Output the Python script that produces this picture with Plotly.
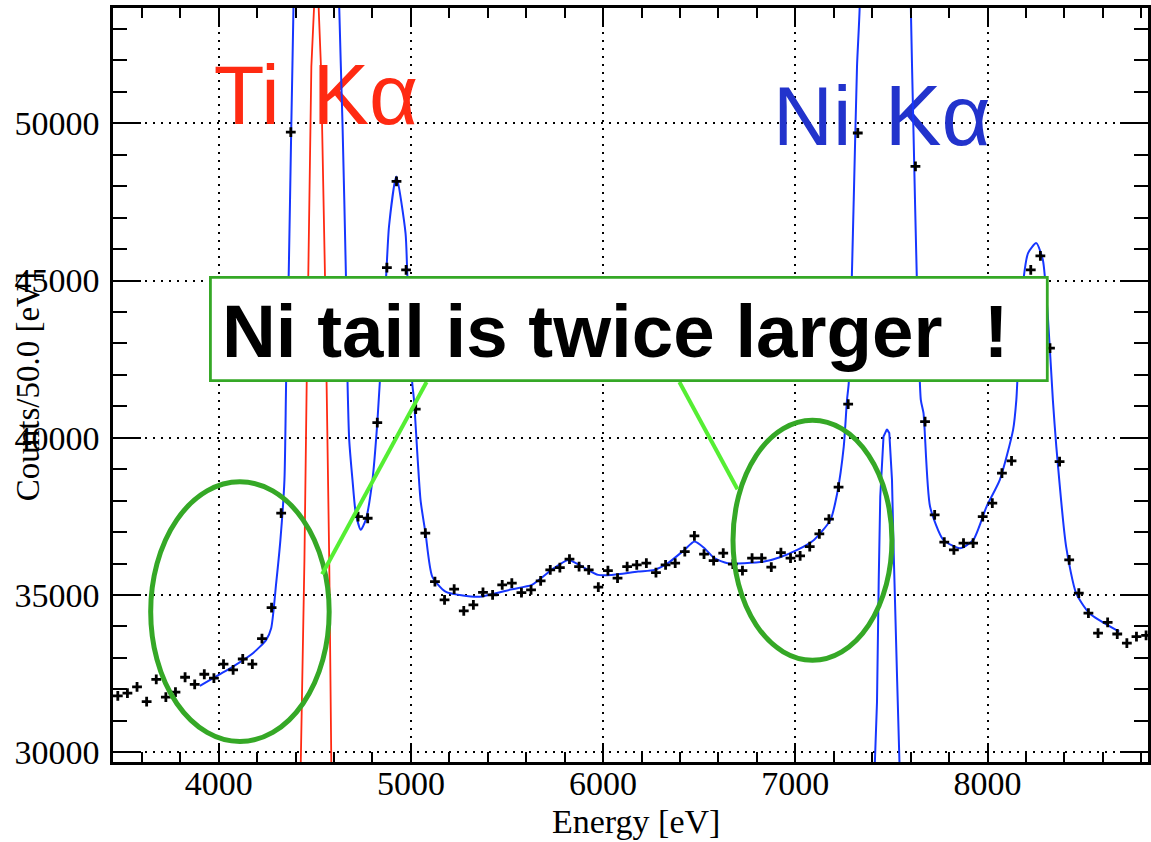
import plotly.graph_objects as go

# ---------------- data ----------------
# histogram: bin centres (50 eV bins) and counts
energy = [3475, 3525, 3575, 3625, 3675, 3725, 3775, 3825, 3875, 3925, 3975,
          4025, 4075, 4125, 4175, 4225, 4275, 4325, 4375, 4425, 4475, 4525, 4575, 4625, 4675, 4725, 4775, 4825, 4875, 4925, 4975,
          5025, 5075, 5125, 5175, 5225, 5275, 5325, 5375, 5425, 5475, 5525, 5575, 5625, 5675, 5725, 5775, 5825, 5875, 5925, 5975,
          6025, 6075, 6125, 6175, 6225, 6275, 6325, 6375, 6425, 6475, 6525, 6575, 6625, 6675, 6725, 6775, 6825, 6875, 6925, 6975,
          7025, 7075, 7125, 7175, 7225, 7275, 7325, 7375, 7425, 7475, 7525, 7575, 7625, 7675, 7725, 7775, 7825, 7875, 7925, 7975,
          8025, 8075, 8125, 8175, 8225, 8275, 8325, 8375, 8425, 8475, 8525, 8575, 8625, 8675, 8725, 8775, 8825]
counts = [31790, 31880, 32080, 31610, 32320, 31750, 31910, 32385, 32160, 32480, 32355,
          32800, 32620, 32965, 32800, 33610, 34600, 37605, 49720, 62000, 76000, 79000, 67000, 56000, 43500, 37495, 37440, 40480, 45410, 48150, 45340,
          40910, 36965, 35426, 34844, 35184, 34494, 34685, 35082, 35003, 35321, 35375, 35076, 35162, 35448, 35798, 35872, 36138, 35903, 35798, 35248,
          35776, 35534, 35903, 35958, 36011, 35712, 35958, 36011, 36381, 36880, 36300, 36094, 36329, 35985, 35776, 36170, 36170, 35884, 36349, 36170,
          36243, 36540, 36943, 37411, 38429, 41069, 49690, 62000, 80000, 90000, 75000, 58000, 48630, 40515, 37548, 36679, 36434, 36648, 36648, 37494,
          37920, 38874, 39265, 42800, 45340, 45785, 42850, 39243, 36116, 35057, 34421, 33785, 34130, 33760, 33467, 33677, 33715]

# total fit (blue)
fit_e = [3902, 4000, 4074, 4178, 4247, 4273, 4299, 4321, 4342, 4351, 4364, 4377, 4389, 4430, 4505, 4580,
         4627, 4644, 4662, 4670, 4679, 4696, 4713, 4739, 4765, 4800, 4825, 4850, 4872, 4886, 4924, 4972, 4981,
         5007, 5016, 5050, 5076, 5111, 5180, 5352, 5525, 5629, 5732, 5819, 5905, 5974, 6043, 6181, 6268, 6337,
         6423, 6475, 6527, 6579, 6648, 6734, 6838, 6920, 7010, 7097, 7183, 7218, 7252, 7269, 7278, 7304, 7321,
         7335, 7400, 7478, 7550, 7601, 7615, 7632, 7653, 7667, 7701, 7770, 7857, 7926, 7995, 8064, 8133, 8150,
         8176, 8211, 8254, 8288, 8314, 8340, 8358, 8409, 8461, 8530, 8685]
fit_c = [32109, 32459, 32723, 33149, 33572, 33944, 35375, 36752, 38661, 41842, 45127, 49688, 53700, 70000, 90000, 70000,
         53700, 50000, 45127, 41842, 39933, 38661, 37602, 37071, 37389, 38661, 40464, 43000, 45235, 46718, 48308, 46507, 45235,
         41737, 41206, 38025, 36965, 35585, 35108, 34943, 35184, 35321, 35798, 36116, 35852, 35640, 35640, 35744, 35798, 36011,
         36434, 36699, 36488, 36170, 36011, 36011, 36063, 36200, 36434, 36752, 37389, 38237, 39720, 41206, 41737, 47567, 51807,
         53700, 75000, 90000, 75000, 53700, 49688, 45127, 41206, 40782, 37812, 36752, 36488, 36752, 37812, 38661, 40251, 41206,
         44387, 45871, 46189, 45653, 43855, 41206, 39720, 36540, 35057, 34421, 33836]

# Ti K-alpha component (red)
ti_e = [4425, 4446, 4458, 4466, 4482, 4496, 4507, 4520, 4532, 4553, 4561, 4575, 4587]
ti_c = [29000, 36116, 41842, 45127, 51797, 53673, 55500, 53673, 51797, 45127, 41842, 36116, 29000]

# Ni component (narrow blue)
ni_e = [7410, 7425, 7434, 7442, 7459, 7477, 7489, 7503, 7511, 7520, 7530, 7545]
ni_c = [29000, 31600, 35480, 38130, 40038, 40273, 40146, 38661, 36540, 34844, 32250, 29000]

x_ticks = [4000, 5000, 6000, 7000, 8000]
x_tick_text = ["4000", "5000", "6000", "7000", "8000"]
y_ticks = [30000, 35000, 40000, 45000, 50000]
y_tick_text = ["30000", "35000", "40000", "45000", "50000"]

# ---------------- layout geometry ----------------
W, H = 1151, 842
ML, MR, MT, MB = 113, 0, 8, 80
X_RANGE = [3450, 8835]
Y_RANGE = [29690, 53665]


def px2x(px):
    return X_RANGE[0] + (px - ML) / (W - ML - MR) * (X_RANGE[1] - X_RANGE[0])


def py2y(py):
    return Y_RANGE[0] + (H - MB - py) / (H - MB - MT) * (Y_RANGE[1] - Y_RANGE[0])


BLUE = "#1636ff"
RED = "#ff2a12"
DGREEN = "#35a826"
LGREEN = "#55ee33"
SERIF = "Liberation Serif, Times New Roman, serif"
SANS = "Liberation Sans, Arial, Helvetica, sans-serif"

fig = go.Figure()

# big labels drawn underneath the curves (each word placed separately)
labels = [("Ti", 214, 103, RED, 83), ("Kα", 313, 103, RED, 85),
          ("Ni", 775, 124, "#2233cc", 83), ("Kα", 887, 124, "#2233cc", 85)]
for txt, lx, ly, col, fs in labels:
    fig.add_trace(go.Scatter(x=[px2x(lx)], y=[py2y(ly)], mode="text", text=[txt],
                             textposition="middle right", textfont=dict(family=SANS, size=fs, color=col),
                             hoverinfo="skip", showlegend=False))

fig.add_trace(go.Scatter(x=ti_e, y=ti_c, mode="lines", line=dict(color=RED, width=1.8),
                         hoverinfo="skip", showlegend=False))
fig.add_trace(go.Scatter(x=ni_e, y=ni_c, mode="lines", line=dict(color=BLUE, width=2),
                         hoverinfo="skip", showlegend=False))
fig.add_trace(go.Scatter(x=fit_e, y=fit_c, mode="lines", line=dict(color=BLUE, width=2, shape="spline", smoothing=0.6),
                         hoverinfo="skip", showlegend=False))
fig.add_trace(go.Scatter(x=energy, y=counts, mode="markers",
                         marker=dict(symbol="cross-thin", size=7, color="black",
                                     line=dict(color="black", width=2.8)),
                         showlegend=False))

axis_common = dict(showline=True, linecolor="black", linewidth=2.5, mirror="allticks",
                   ticks="inside", tickcolor="black", tickwidth=2,
                   showgrid=True, gridcolor="black", gridwidth=1.6, griddash="2px,6px",
                   zeroline=False, tickfont=dict(family=SERIF, size=34, color="black"))

fig.update_xaxes(range=X_RANGE, tickvals=x_ticks, ticktext=x_tick_text, ticklen=19,
                 minor=dict(ticks="inside", ticklen=10, dtick=200, tickcolor="black", tickwidth=2, showgrid=False),
                 ticklabelstandoff=-11, **axis_common)
fig.update_yaxes(range=Y_RANGE, tickvals=y_ticks, ticktext=y_tick_text, ticklen=28,
                 minor=dict(ticks="inside", ticklen=14, dtick=1000, tickcolor="black", tickwidth=2, showgrid=False),
                 ticklabelstandoff=4, **axis_common)

shapes = []
# ellipses
shapes.append(dict(type="circle", xref="x", yref="y", layer="above",
                   x0=px2x(150.8), x1=px2x(329.8), y0=py2y(741.5), y1=py2y(481.8),
                   line=dict(color=DGREEN, width=5)))
shapes.append(dict(type="circle", xref="x", yref="y", layer="above",
                   x0=px2x(734.8), x1=px2x(894.2), y0=py2y(660.2), y1=py2y(420.2),
                   line=dict(color=DGREEN, width=5)))
# pointer lines
shapes.append(dict(type="line", xref="x", yref="y", layer="above",
                   x0=px2x(322.7), y0=py2y(574.3), x1=px2x(427.5), y1=py2y(382),
                   line=dict(color=LGREEN, width=4)))
shapes.append(dict(type="line", xref="x", yref="y", layer="above",
                   x0=px2x(739.3), y0=py2y(489.3), x1=px2x(681), y1=py2y(382),
                   line=dict(color=LGREEN, width=4)))
# text box
shapes.append(dict(type="rect", xref="x", yref="y", layer="above",
                   x0=px2x(210.7), x1=px2x(1050), y0=py2y(380.7), y1=py2y(277.3),
                   fillcolor="white", line=dict(color=DGREEN, width=2.8)))

annotations = [
    dict(x=px2x(220), y=py2y(331), xref="x", yref="y", xanchor="left", yanchor="middle",
         text="<b>Ni tail is twice larger&nbsp;&nbsp;!</b>", showarrow=False,
         font=dict(family=SANS, size=74.5, color="black")),
    dict(x=(637.5 - ML) / (W - ML - MR), y=(H - MB - 822) / (H - MB - MT), xref="paper", yref="paper",
         xanchor="center", yanchor="middle",
         text="Energy [eV]", showarrow=False, font=dict(family=SERIF, size=34, color="black")),
    dict(x=(28 - ML) / (W - ML - MR), y=(H - MB - 387) / (H - MB - MT), xref="paper", yref="paper",
         xanchor="center", yanchor="middle", textangle=-90,
         text="Counts/50.0 [eV]", showarrow=False, font=dict(family=SERIF, size=33, color="black")),
]

fig.update_layout(width=W, height=H, autosize=False,
                  margin=dict(l=ML, r=MR, t=MT, b=MB, pad=0),
                  plot_bgcolor="white", paper_bgcolor="white",
                  shapes=shapes, annotations=annotations, showlegend=False)

fig.write_html("out.html")
